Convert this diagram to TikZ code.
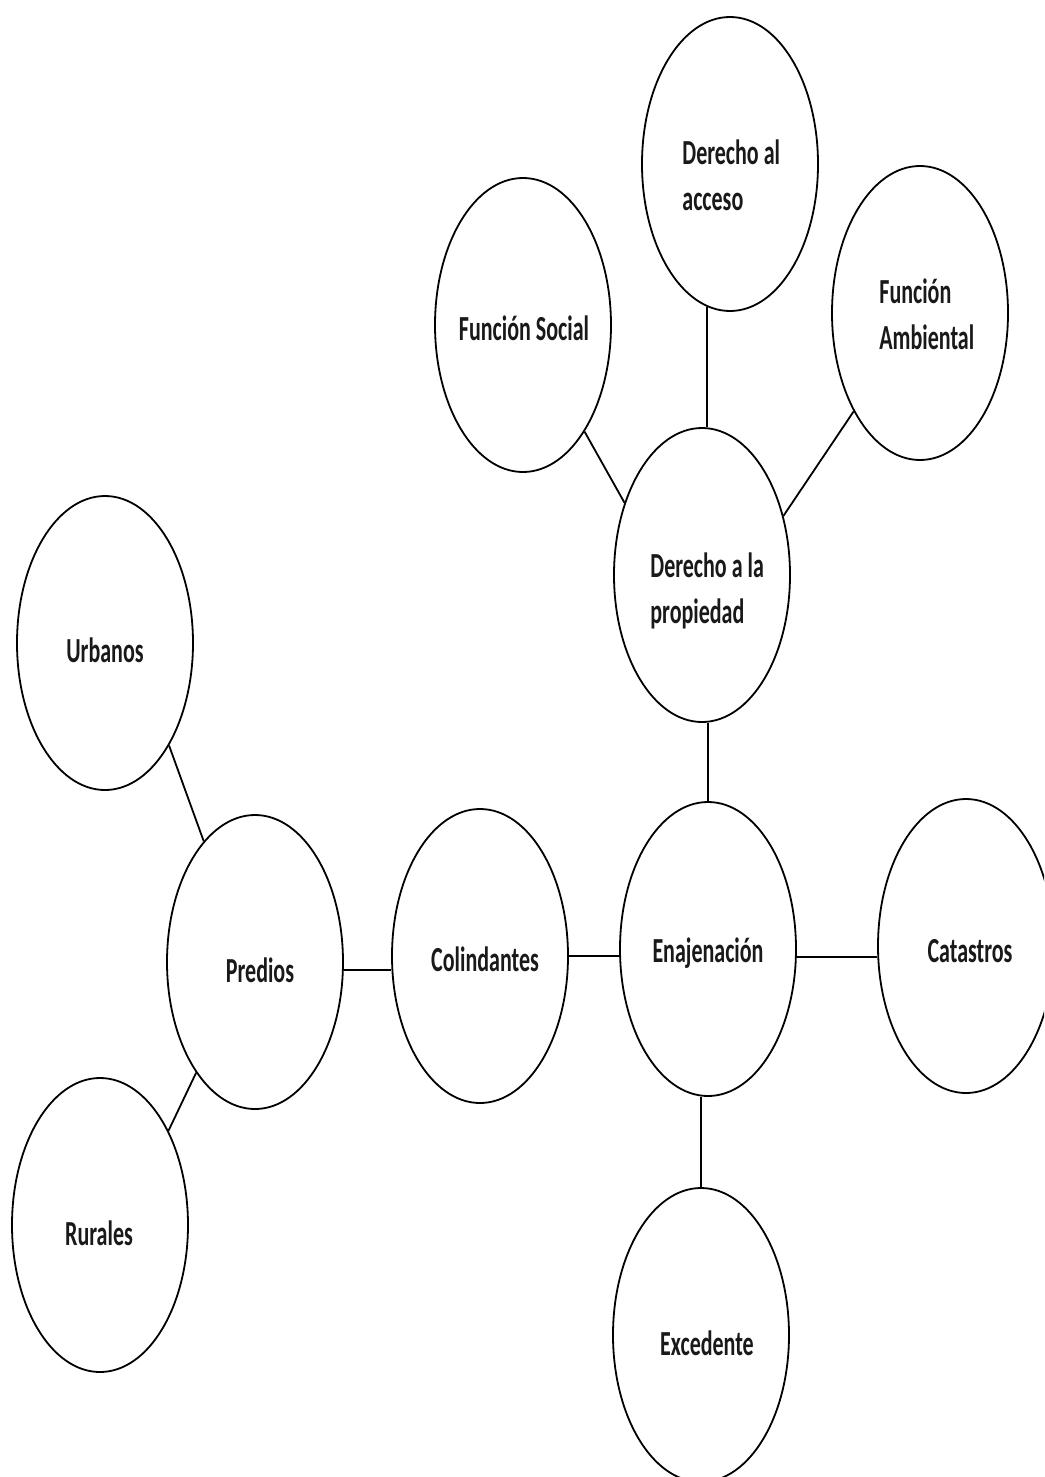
\documentclass[tikz,border=0pt]{standalone}
\usepackage{fontspec}
\setmainfont{Carlito}
\usetikzlibrary{shapes.geometric}
\newcommand\lbltxt[1]{\scalebox{1}[1.6]{\begin{tabular}{@{}l@{}}#1\end{tabular}}}
\tikzset{
  bub/.style={ellipse, draw=black, line width=0.9pt, minimum width=88pt, minimum height=147pt, inner sep=0pt},
  lbl/.style={inner sep=0pt, font=\fontsize{11}{14.5}\selectfont\bfseries, text=black!90},
  conn/.style={draw=black, line width=0.9pt}
}
\begin{document}
\begin{tikzpicture}[x=0.5pt, y=-0.5pt]
\useasboundingbox (0,0) rectangle (1044,1477);
\clip (0,0) rectangle (1044,1477);
\fill[white] (0,0) rectangle (1044,1477);
% ellipses
\node[bub] (fs) at (523,325) {};
\node[bub] (da) at (730,164) {};
\node[bub] (fa) at (920,313) {};
\node[bub] (dap) at (702,575) {};
\node[bub] (urb) at (105,643) {};
\node[bub] (pre) at (255,962) {};
\node[bub] (col) at (480,956) {};
\node[bub] (enaj) at (708,949) {};
\node[bub] (cat) at (966,946) {};
\node[bub] (rur) at (100,1225) {};
\node[bub] (exc) at (701,1335) {};
% labels
\node[lbl] (fs-t) at (524,331) {\lbltxt{Función Social}};
\node[lbl, anchor=west] (da-t) at (682,178) {\lbltxt{Derecho al\\acceso}};
\node[lbl, anchor=west] (fa-t) at (879,317) {\lbltxt{Función\\Ambiental}};
\node[lbl, anchor=west] (dap-t) at (650,591) {\lbltxt{Derecho a la\\propiedad}};
\node[lbl] (urb-t) at (105,653) {\lbltxt{Urbanos}};
\node[lbl] (pre-t) at (260,973) {\lbltxt{Predios}};
\node[lbl] (col-t) at (485,962) {\lbltxt{Colindantes}};
\node[lbl] (enaj-t) at (708,953) {\lbltxt{Enajenación}};
\node[lbl] (cat-t) at (970,953) {\lbltxt{Catastros}};
\node[lbl] (rur-t) at (99,1236) {\lbltxt{Rurales}};
\node[lbl] (exc-t) at (707,1346) {\lbltxt{Excedente}};
% connectors
\draw[conn] (fs.-60) -- (dap.137);
\draw[conn] (fa.-124) -- (dap.36);
\draw[conn] (da.-99) -- (da.-99 |- dap.north);
\draw[conn] (enaj.north) -- (enaj.north |- dap.south);
\draw[conn] (exc.north) -- (exc.north |- enaj.south);
\draw[conn] (urb.-58) -- (pre.113);
\draw[conn] (pre.-118) -- (rur.54);
\draw[conn] (pre.-5) -- (pre.-5 -| col.west);
\draw[conn] (col.east) -- (col.east -| enaj.west);
\draw[conn] (enaj.-5) -- (enaj.-5 -| cat.west);
\end{tikzpicture}
\end{document}
